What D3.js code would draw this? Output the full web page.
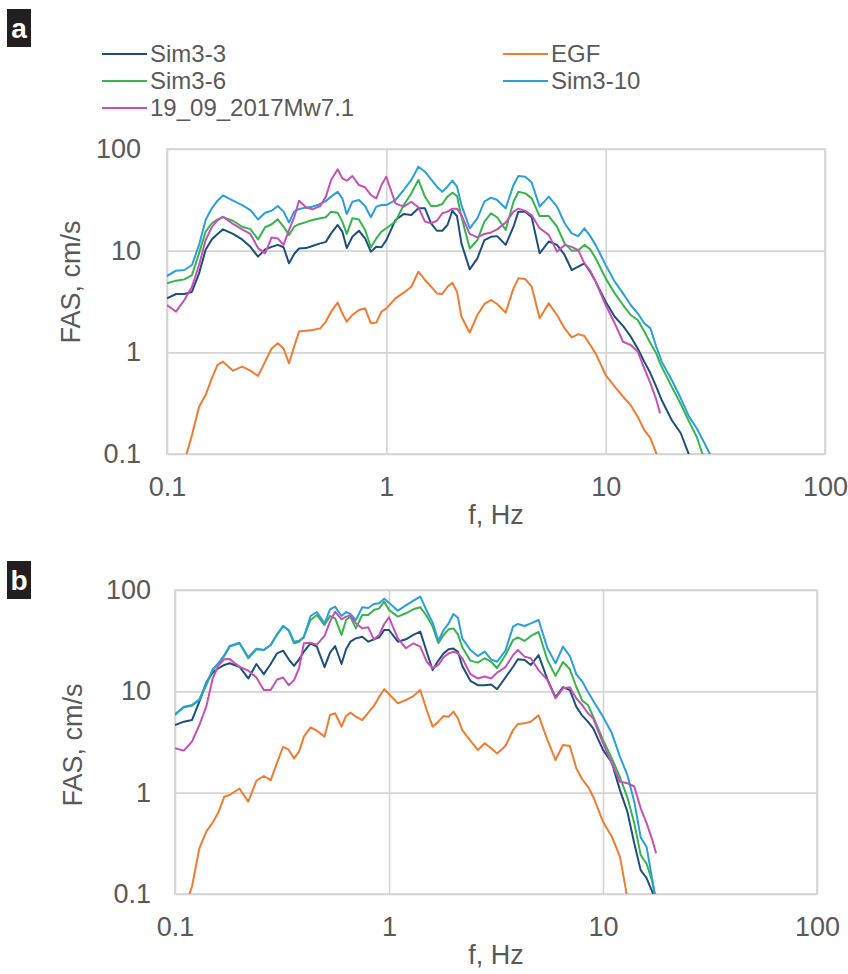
<!DOCTYPE html>
<html>
<head>
<meta charset="utf-8">
<script src="https://cdn.jsdelivr.net/npm/d3@7"></script>
<style>
  body { margin: 0; background: #fff; }
  svg text { font-family: "Liberation Sans", Arial, sans-serif; }
</style>
</head>
<body>
<script>
// frequency grid (Hz) shared by every series
var freq = [0.1, 0.11, 0.12, 0.13, 0.14, 0.15, 0.16, 0.17, 0.18, 0.2,
            0.22, 0.24, 0.26, 0.28, 0.3, 0.32, 0.34, 0.36, 0.38, 0.4,
            0.43, 0.46, 0.5, 0.53, 0.56, 0.6, 0.63, 0.66, 0.7, 0.75,
            0.8, 0.85, 0.9, 0.95, 1.0, 1.1, 1.2, 1.3, 1.4, 1.5,
            1.6, 1.7, 1.8, 1.9, 2.0, 2.1, 2.2, 2.4, 2.6, 2.8,
            3.0, 3.2, 3.5, 3.8, 4.0, 4.3, 4.6, 5.0, 5.5, 6.0,
            6.5, 7.0, 7.5, 8.0, 8.5, 9.0, 10, 11, 12, 13,
            14, 15, 16, 17, 17.7, 18, 20, 22, 24, 26,
            28, 30];

var ticks = [0.1, 1, 10, 100];
var tickLabels = ["0.1", "1", "10", "100"];

var seriesNames = ["Sim3-3", "EGF", "Sim3-6", "Sim3-10", "19_09_2017Mw7.1"];
var seriesColors = ["#1c4f7c", "#f07b32", "#36b54c", "#2a9fdb", "#c452b6"];

// ---- panel a : FAS, cm/s ----
var aSim3_3 = [3.40, 3.75, 3.75, 3.95, 5.98, 10.2, 12.9, 14.6, 16.2, 14.6,
  12.9, 10.9, 8.73, 10.3, 10.9, 11.4, 10.8, 7.51, 9.27, 10.5,
  10.6, 11.1, 11.8, 12.2, 14.8, 17.9, 15.4, 10.6, 13.7, 15.7,
  13.2, 9.78, 10.9, 10.8, 12.7, 20.0, 22.9, 22.4, 26.1, 26.1,
  18.6, 15.7, 15.7, 17.9, 24.7, 21.9, 11.8, 6.55, 8.41, 12.7,
  13.7, 13.9, 11.4, 17.2, 24.2, 24.2, 21.3, 9.41, 12.3, 11.4,
  9.07, 6.45, 6.96, 7.51, 6.21, 4.96, 3.15, 2.24, 1.82, 1.43,
  1.09, 0.81, 0.622, 0.46, 0.37, 0.34, 0.216, 0.160, 0.098, null,
  null, null];
var aEGF = [null, null, 0.084, 0.154, 0.292, 0.380, 0.555, 0.751, 0.81, 0.660,
  0.723, 0.660, 0.585, 0.81, 1.09, 1.23, 1.09, 0.780, 1.14, 1.60,
  1.63, 1.66, 1.72, 2.00, 2.51, 3.08, 2.42, 2.00, 2.33, 2.61,
  2.71, 1.93, 1.96, 2.51, 2.71, 3.40, 3.86, 4.42, 6.21, 5.15,
  4.42, 3.80, 3.75, 4.42, 4.84, 3.95, 2.24, 1.56, 2.33, 2.99,
  3.27, 2.99, 2.46, 4.26, 5.34, 5.26, 4.42, 2.16, 3.03, 2.33,
  1.72, 1.40, 1.51, 1.45, 1.18, 0.977, 0.598, 0.460, 0.366, 0.303,
  0.233, 0.172, 0.143, 0.102, 0.08, null, null, null, null, null,
  null, null];
var aSim3_6 = [4.77, 5.07, 5.22, 5.76, 9.41, 15.4, 18.6, 20.3, 21.3, 19.7,
  17.2, 16.3, 12.9, 17.0, 18.2, 20.3, 17.2, 14.3, 17.2, 18.2,
  19.1, 20.0, 20.8, 21.3, 24.2, 23.6, 19.3, 14.6, 20.8, 20.3,
  16.0, 10.8, 13.2, 15.4, 16.6, 19.3, 28.1, 36.6, 49.6, 34.0,
  27.5, 27.5, 28.8, 34.0, 37.2, 34.5, 21.6, 10.5, 12.7, 19.3,
  23.3, 21.3, 16.0, 30.3, 38.0, 36.6, 32.7, 21.9, 21.9, 17.2,
  11.8, 10.0, 10.1, 11.4, 10.3, 8.41, 5.34, 3.80, 2.92, 2.33,
  2.08, 1.60, 1.23, 0.98, 0.78, 0.723, 0.460, 0.310, 0.208, 0.148,
  0.092, null];
var aSim3_10 = [5.63, 6.36, 6.45, 7.23, 11.4, 20.0, 26.1, 31.0, 35.0, 31.0,
  28.1, 25.1, 20.3, 23.6, 24.7, 27.5, 24.2, 18.9, 24.2, 25.7,
  26.5, 27.1, 28.8, 30.8, 34.0, 38.0, 32.7, 22.9, 30.3, 31.5,
  27.5, 21.3, 27.1, 28.1, 28.1, 31.5, 39.5, 49.6, 67.0, 59.8,
  50.3, 42.6, 38.0, 42.6, 48.8, 42.6, 28.1, 16.6, 20.8, 30.3,
  33.2, 31.5, 26.1, 44.2, 54.3, 53.4, 46.7, 27.1, 34.0, 27.1,
  18.6, 14.8, 13.9, 16.6, 13.9, 11.4, 7.23, 4.96, 3.80, 2.92,
  2.42, 1.93, 1.72, 1.14, 0.91, 0.81, 0.534, 0.353, 0.233, 0.179,
  0.132, 0.098];
var aMw71 = [2.92, 2.51, 3.27, 4.42, 7.23, 12.7, 17.0, 20.0, 21.6, 18.3,
  16.2, 14.6, 10.6, 9.41, 13.5, 13.2, 11.4, 16.0, 21.3, 31.0,
  26.7, 25.5, 27.5, 34.0, 49.6, 63.1, 51.5, 48.8, 54.3, 44.2,
  42.0, 35.3, 32.7, 44.2, 53.4, 29.2, 27.1, 30.3, 26.7, 19.3,
  18.6, 19.7, 23.3, 24.2, 25.9, 25.9, 22.4, 14.6, 13.5, 14.6,
  15.1, 16.2, 18.9, 24.2, 25.9, 24.6, 22.3, 16.6, 14.3, 9.78,
  11.4, 10.9, 10.1, 7.51, 6.36, 4.96, 2.92, 1.93, 1.27, 1.18,
  1.02, 0.696, 0.496, 0.345, 0.251, null, null, null, null, null,
  null, null];

// ---- panel b : FAS, cm/s ----
var bSim3_3 = [4.65, 5.02, 5.21, 7.91, 12.2, 15.3, 16.9, 18.2, 18.9, 17.5,
  13.4, 18.6, 14.8, 18.6, 23.7, 25.2, 20.7, 17.8, 20.7, 24.6,
  29.8, 27.6, 17.3, 24.1, 28.0, 18.6, 26.0, 30.9, 33.3, 34.6,
  30.9, 32.6, 34.1, 40.3, 40.3, 30.9, 32.6, 36.0, 38.8, 24.6,
  16.2, 20.1, 23.7, 26.0, 26.4, 24.6, 17.8, 12.7, 11.5, 11.5,
  11.7, 10.5, 13.7, 17.5, 20.7, 20.4, 18.2, 22.8, 13.1, 8.73,
  11.0, 10.3, 7.06, 5.75, 5.02, 4.31, 2.64, 1.98, 1.06, 0.649,
  0.316, 0.172, 0.143, 0.105, 0.08, null, null, null, null, null,
  null, null];
var bEGF = [null, 0.07, 0.118, 0.282, 0.412, 0.506, 0.649, 0.913, 0.948, 1.10,
  0.815, 1.31, 1.46, 1.33, 1.98, 2.84, 2.64, 2.18, 2.54, 3.57,
  4.41, 4.09, 3.57, 5.84, 6.07, 4.48, 5.71, 6.16, 5.62, 5.21,
  6.16, 7.17, 8.86, 10.5, 9.41, 7.61, 8.21, 8.99, 10.3, 6.54,
  4.48, 5.02, 5.71, 5.62, 6.30, 5.41, 4.15, 3.26, 2.64, 3.07,
  2.74, 2.44, 2.89, 4.15, 4.76, 4.83, 5.02, 5.80, 3.31, 2.10,
  2.95, 2.89, 1.74, 1.35, 1.15, 0.913, 0.517, 0.368, 0.234, 0.091,
  null, null, null, null, null, null, null, null, null, null,
  null, null];
var bSim3_6 = [5.97, 6.95, 7.22, 8.21, 11.5, 16.2, 18.9, 22.3, 27.6, 29.8,
  21.2, 26.0, 25.6, 28.7, 36.8, 44.1, 39.7, 29.8, 30.9, 34.6,
  50.6, 56.7, 45.1, 55.4, 52.5, 36.0, 50.6, 54.6, 41.8, 56.7,
  56.7, 63.5, 65.9, 76.7, 63.5, 54.6, 58.9, 64.5, 67.5, 55.4,
  43.5, 29.8, 36.0, 40.9, 41.8, 36.5, 27.2, 20.1, 19.2, 21.2,
  19.6, 16.9, 22.8, 32.1, 34.1, 31.4, 35.2, 38.5, 20.4, 14.2,
  19.5, 16.5, 11.1, 8.09, 7.33, 5.62, 3.31, 2.18, 1.42, 0.899,
  0.498, 0.243, 0.198, 0.132, 0.085, null, null, null, null, null,
  null, null];
var bSim3_10 = [5.84, 7.06, 7.33, 8.34, 11.8, 16.5, 19.2, 22.8, 28.0, 30.2,
  21.7, 26.4, 25.6, 28.7, 36.0, 44.1, 40.3, 30.9, 31.6, 34.1,
  55.4, 60.7, 46.9, 64.5, 68.5, 55.4, 60.7, 58.0, 50.6, 67.5,
  66.4, 72.8, 73.9, 82.1, 75.0, 62.5, 70.6, 78.5, 86.0, 62.5,
  47.6, 31.6, 40.3, 46.9, 58.0, 53.3, 33.3, 25.6, 22.3, 24.6,
  20.7, 19.6, 25.2, 43.5, 46.2, 44.1, 46.9, 50.6, 26.6, 18.9,
  27.6, 22.3, 14.8, 12.5, 9.92, 8.09, 5.62, 3.85, 2.27, 1.49,
  0.815, 0.362, 0.289, 0.137, 0.085, null, null, null, null, null,
  null, null];
var bMw71 = [2.74, 2.60, 3.19, 4.65, 7.06, 13.4, 18.2, 20.7, 20.8, 17.5,
  16.0, 13.7, 10.3, 10.3, 13.1, 13.7, 11.5, 12.9, 16.9, 29.8,
  30.2, 28.9, 35.2, 48.7, 61.1, 51.3, 54.6, 56.2, 46.9, 41.8,
  42.8, 32.6, 36.0, 46.2, 53.7, 33.3, 26.6, 29.8, 27.6, 19.6,
  16.9, 18.2, 21.7, 23.7, 24.6, 23.7, 21.2, 14.8, 13.4, 14.0,
  13.4, 15.3, 17.3, 22.8, 25.6, 22.0, 21.2, 16.2, 12.9, 8.53,
  10.7, 11.0, 8.53, 7.33, 6.07, 5.41, 3.07, 1.95, 1.28, 1.24,
  1.15, 0.70, 0.498, 0.341, 0.252, null, null, null, null, null,
  null, null];

// layout of the two panels
var panels = [
  { label: "a", left: 167, right: 825, top: 149, bottom: 454, yPad: 26, xPad: 23,
    boxY: 9, yTitleX: 71, yTitleY: 282, series: [aSim3_3, aEGF, aSim3_6, aSim3_10, aMw71], legend: true },
  { label: "b", left: 175, right: 817, top: 590, bottom: 894, yPad: 24, xPad: 23,
    boxY: 561, yTitleX: 73, yTitleY: 745, series: [bSim3_3, bEGF, bSim3_6, bSim3_10, bMw71], legend: false }
];

var textColor = "#595959";
var gridColor = "#d4d4d4";
var fontSize = 27;
var legendFontSize = 24;

var svg = d3.select("body")
  .append("svg")
  .attr("width", 848)
  .attr("height", 974);

svg.append("rect").attr("width", 848).attr("height", 974).attr("fill", "#fff");

panels.forEach(function(p, pi) {
  var x = d3.scaleLog().domain([0.1, 100]).range([p.left, p.right]);
  var y = d3.scaleLog().domain([0.1, 100]).range([p.bottom, p.top]);
  var g = svg.append("g");

  // gridlines
  var gx = g.append("g")
    .attr("transform", "translate(0," + p.bottom + ")")
    .call(d3.axisBottom(x).tickValues(ticks).tickSize(-(p.bottom - p.top)).tickFormat(function() { return ""; }));
  var gy = g.append("g")
    .attr("transform", "translate(" + p.left + ",0)")
    .call(d3.axisLeft(y).tickValues(ticks).tickSize(-(p.right - p.left)).tickFormat(function() { return ""; }));
  [gx, gy].forEach(function(s) {
    s.select(".domain").remove();
    s.selectAll("line").attr("stroke", gridColor).attr("stroke-width", 1.6);
  });

  g.append("rect")
    .attr("x", p.left).attr("y", p.top)
    .attr("width", p.right - p.left).attr("height", p.bottom - p.top)
    .attr("fill", "none").attr("stroke", gridColor).attr("stroke-width", 1.6);

  // clip
  svg.append("clipPath").attr("id", "clip" + pi)
    .append("rect")
    .attr("x", p.left).attr("y", p.top)
    .attr("width", p.right - p.left).attr("height", p.bottom - p.top);

  var line = d3.line()
    .defined(function(d) { return d[1] != null; })
    .x(function(d) { return x(d[0]); })
    .y(function(d) { return y(d[1]); });

  p.series.forEach(function(vals, i) {
    g.append("path")
      .datum(freq.map(function(f, j) { return [f, vals[j]]; }))
      .attr("clip-path", "url(#clip" + pi + ")")
      .attr("fill", "none")
      .attr("stroke", seriesColors[i])
      .attr("stroke-width", 2)
      .attr("stroke-linejoin", "round")
      .attr("d", line);
  });

  // tick labels
  var lx = g.append("g")
    .attr("transform", "translate(0," + p.bottom + ")")
    .call(d3.axisBottom(x).tickValues(ticks).tickSize(0).tickPadding(p.xPad)
      .tickFormat(function(d, i) { return tickLabels[i]; }));
  var ly = g.append("g")
    .attr("transform", "translate(" + p.left + ",0)")
    .call(d3.axisLeft(y).tickValues(ticks).tickSize(0).tickPadding(p.yPad)
      .tickFormat(function(d, i) { return tickLabels[i]; }));
  [lx, ly].forEach(function(s) {
    s.select(".domain").remove();
    s.attr("font-size", fontSize).attr("font-family", null);
    s.selectAll("text").attr("fill", textColor);
  });

  // axis titles
  g.append("text")
    .attr("x", (p.left + p.right) / 2)
    .attr("y", p.bottom + 70)
    .attr("text-anchor", "middle")
    .attr("font-size", fontSize)
    .attr("fill", textColor)
    .text("f, Hz");

  g.append("text")
    .attr("transform", "translate(" + p.yTitleX + "," + p.yTitleY + ") rotate(-90)")
    .attr("text-anchor", "middle")
    .attr("dy", "0.35em")
    .attr("font-size", fontSize)
    .attr("fill", textColor)
    .text("FAS, cm/s");

  // panel letter
  g.append("rect")
    .attr("x", 7).attr("y", p.boxY)
    .attr("width", 24).attr("height", 38)
    .attr("fill", "#231f20");
  g.append("text")
    .attr("x", 19).attr("y", p.boxY + 19)
    .attr("dy", "0.35em")
    .attr("text-anchor", "middle")
    .attr("font-size", 28)
    .attr("font-weight", "bold")
    .attr("fill", "#fff")
    .text(p.label);

  // legend
  if (p.legend) {
    var legX = [102, 503];
    var legY = [54, 81, 108];
    seriesNames.forEach(function(name, i) {
      var lxPos = legX[i % 2], lyPos = legY[Math.floor(i / 2)];
      var item = g.append("g").attr("transform", "translate(" + lxPos + "," + lyPos + ")");
      item.append("line")
        .attr("x1", 0).attr("x2", 45)
        .attr("stroke", seriesColors[i]).attr("stroke-width", 2);
      item.append("text")
        .attr("x", 48).attr("dy", "0.35em")
        .attr("font-size", legendFontSize)
        .attr("fill", textColor)
        .text(name);
    });
  }
});
</script>
</body>
</html>
